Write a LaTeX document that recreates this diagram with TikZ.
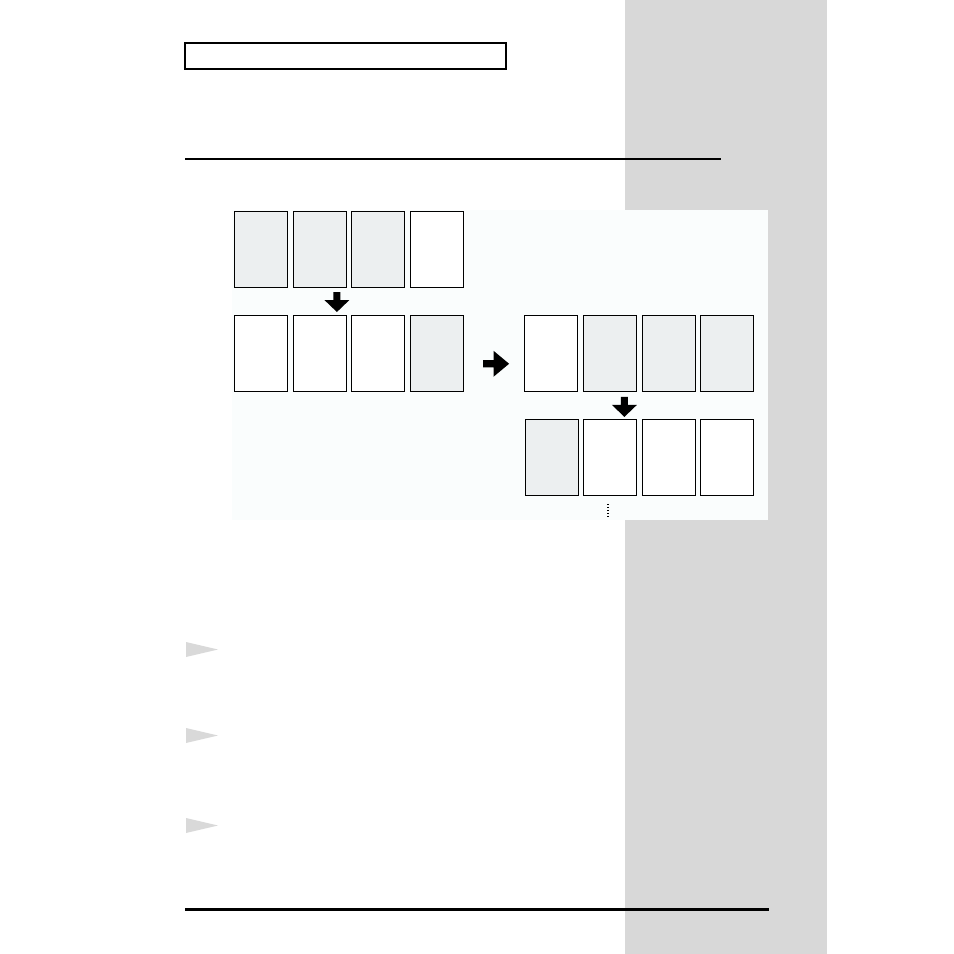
\documentclass[tikz,border=0pt]{standalone}
\usetikzlibrary{calc}
\definecolor{sidegrey}{RGB}{216,216,216}
\definecolor{panelbg}{RGB}{250,253,253}
\definecolor{cardgrey}{RGB}{236,239,240}
\definecolor{stepgrey}{RGB}{217,217,217}
\begin{document}
\begin{tikzpicture}[x=1pt,y=-1pt,
  card/.style={draw,line width=0.9pt,minimum width=53pt,minimum height=76pt,
    inner sep=0pt,anchor=north west},
  busy/.style={fill=cardgrey},idle/.style={fill=white},
  pics/blockarrow/.style={code={
     \fill (-3.5,0) -- (3.5,0) -- (3.5,8) -- (12.5,8) -- (0,20) -- (-12.5,8)
       -- (-3.5,8) -- cycle;
    }}]
 \useasboundingbox (0,0) rectangle (954,954);
 \fill[sidegrey] (625,0) rectangle (827,954);
 \fill[panelbg] (232,210) rectangle (768,520);
 \draw[line width=2pt] (185,43) rectangle (506,69);
 \draw[line width=2.2pt] (185,159) -- (721,159);
 \draw[line width=3pt] (185,909) -- (769,909);
 % cards
 \foreach \x/\s [count=\i] in {234/busy,292.5/busy,351/busy,409.5/idle}
   {\node[card,\s] (a\i) at (\x,211) {};}
 \foreach \x/\s [count=\i] in {233.5/idle,292.5/idle,351/idle,410/busy}
   {\node[card,\s] (b\i) at (\x,315) {};}
 \foreach \x/\s [count=\i] in {524/idle,583/busy,641.5/busy,700/busy}
   {\node[card,\s] (c\i) at (\x,315) {};}
 \foreach \x/\s [count=\i] in {525/busy,583/idle,641.5/idle,700/idle}
   {\node[card,\s] (d\i) at (\x,419) {};}
 % arrows
 \path ($(b2.north east)+(-9.5,-23)$) pic{blockarrow}
   ($(c2.south east)+(-12.5,5)$) pic{blockarrow}
   ($(b4.east)+(19.2,10.3)$) pic[rotate=90,yscale=1.3,xscale=1.04]{blockarrow};
 \draw[line width=1.2pt,dash pattern=on 1pt off 2pt] ($(d2.south)+(-2,8)$) -- ++(0,13);
 % steps
 \foreach \y in {642,728,818}
   \fill[stepgrey] (186,\y) -- (218,\y+7.5) -- (186,\y+15) -- cycle;
\end{tikzpicture}
\end{document}
